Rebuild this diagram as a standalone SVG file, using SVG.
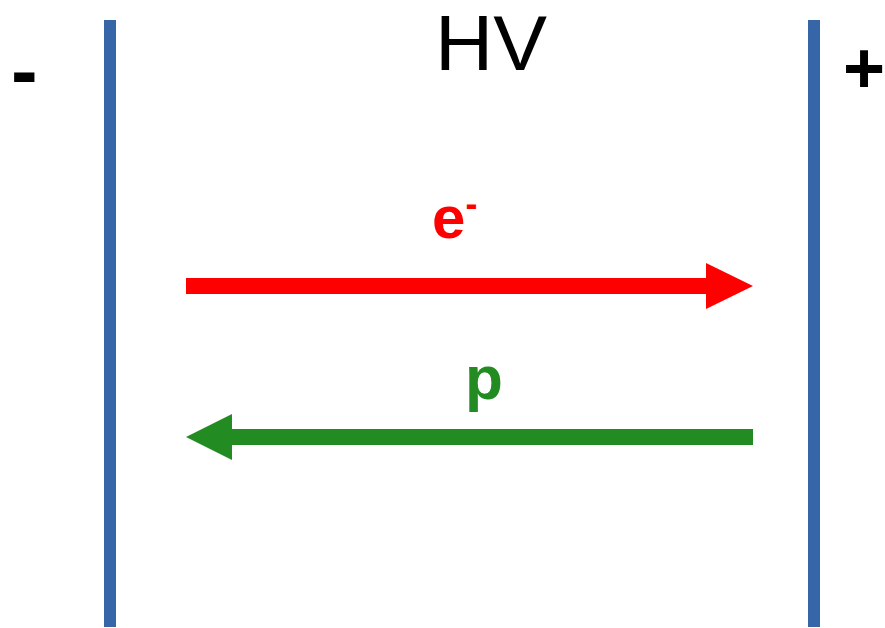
<svg xmlns="http://www.w3.org/2000/svg" width="885" height="628" viewBox="0 0 885 628">
<style>
.plate{stroke:#3666A8;stroke-width:12;fill:none}
.sign{font-family:"Liberation Sans",Arial,sans-serif;font-weight:bold;fill:#000}
.lbl{font-family:"Liberation Sans",Arial,sans-serif;font-weight:bold}
</style>
<rect width="885" height="628" fill="#fff"/>
<g id="plate-neg"><line class="plate" x1="110" y1="20" x2="110" y2="627"/></g>
<g id="plate-pos"><line class="plate" x1="814" y1="20" x2="814" y2="627"/></g>
<g id="hv"><text x="491" y="70" font-family="Liberation Sans,Arial,sans-serif" font-size="78" text-anchor="middle" fill="#000" textLength="112" lengthAdjust="spacingAndGlyphs">HV</text></g>
<g id="minus"><text class="sign" x="11" y="98" font-size="80">-</text></g>
<g id="plus"><text class="sign" x="843" y="93" font-size="72">+</text></g>
<g id="connectors">
<g id="electron-arrow">
<rect x="186" y="278" width="521" height="16" fill="#FF0000"/>
<polygon points="706,263 753,286 706,309" fill="#FF0000"/>
</g>
<g id="proton-arrow">
<rect x="231" y="429" width="522" height="16" fill="#228B22"/>
<polygon points="232,414 186,437 232,460" fill="#228B22"/>
</g>
</g>
<g id="label-e"><text class="lbl" x="432" y="238" font-size="60" fill="#FF0000">e<tspan font-size="36" dy="-22">-</tspan></text></g>
<g id="label-p"><text class="lbl" x="465" y="399" font-size="62" fill="#228B22">p</text></g>
</svg>
